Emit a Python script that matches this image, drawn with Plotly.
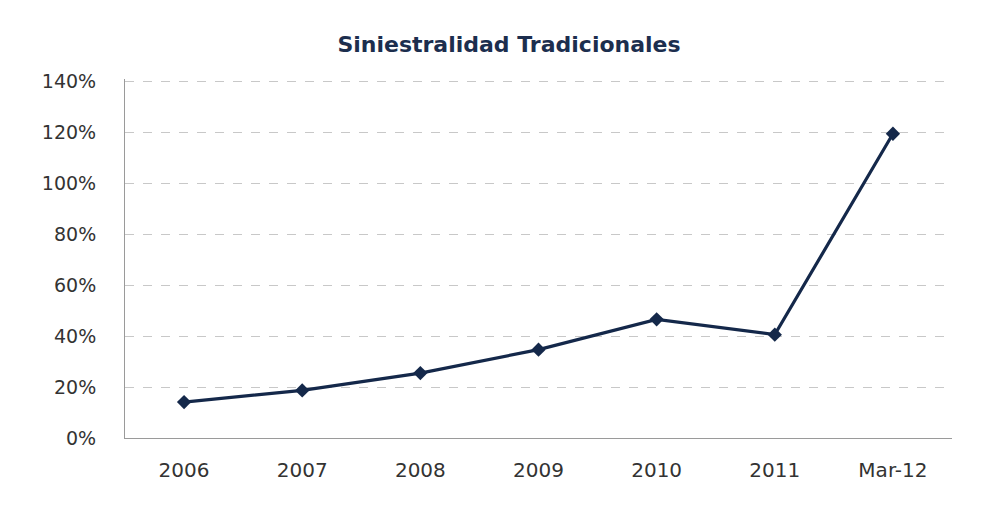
import plotly.graph_objects as go

categories = ["2006", "2007", "2008", "2009", "2010", "2011", "Mar-12"]
siniestralidad = [0.141, 0.187, 0.255, 0.347, 0.466, 0.406, 1.195]
y_ticks = [0, 0.2, 0.4, 0.6, 0.8, 1.0, 1.2, 1.4]
y_tick_labels = ["0%", "20%", "40%", "60%", "80%", "100%", "120%", "140%"]

fig = go.Figure()
fig.add_trace(go.Scatter(
    x=categories, y=siniestralidad, mode="lines+markers",
    line=dict(color="#14284a", width=3.2),
    marker=dict(symbol="diamond", size=11, color="#14284a"),
    showlegend=False, hoverinfo="x+y",
))

fig.update_layout(
    width=1002, height=519,
    margin=dict(l=117, r=58, t=70.5, b=89),
    paper_bgcolor="white", plot_bgcolor="white",
    title=dict(text="<b>Siniestralidad Tradicionales</b>", x=0.5, xanchor="center",
               y=1 - 36 / 519, yanchor="middle",
               font=dict(family="DejaVu Sans", size=22, color="#1c2e4e")),
    font=dict(family="DejaVu Sans", size=19, color="#333333"),
    xaxis=dict(type="category", range=[-0.5, 6.5], showgrid=False,
               showline=True, linecolor="#9a9a9a", linewidth=1,
               ticks="", ticklabelstandoff=14, tickfont=dict(size=20),
               fixedrange=True),
    yaxis=dict(range=[0, 1.41], tickvals=y_ticks, ticktext=y_tick_labels,
               showgrid=True, gridcolor="#c8c8c8", griddash="dash", gridwidth=1,
               showline=True, linecolor="#9a9a9a", linewidth=1,
               ticks="", ticklabelstandoff=24, zeroline=False, fixedrange=True),
)

fig.write_html("out.html")
